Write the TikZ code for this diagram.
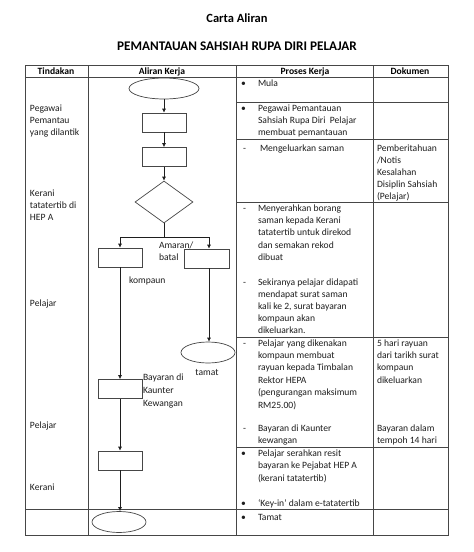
\documentclass[tikz,border=0pt]{standalone}
\usepackage{fontspec}
\setmainfont{Carlito}
\usetikzlibrary{arrows.meta,shapes.geometric}
\definecolor{rulegray}{RGB}{70,70,70}
\definecolor{inkgray}{RGB}{30,30,30}
\begin{document}
\begin{tikzpicture}[x=1pt,y=-1pt,
  lbl/.style={inner sep=0pt,outer sep=0pt,anchor=base west,text=inkgray,font=\fontsize{9.6}{11.5}\selectfont},
  hdr/.style={inner sep=0pt,outer sep=0pt,anchor=base,text=black,font=\bfseries\fontsize{9.6}{11.5}\selectfont},
  grid/.style={draw=rulegray,line width=0.8pt},
  boxstep/.style={draw=rulegray,line width=0.7pt,minimum width=44pt,minimum height=19pt,inner sep=0pt},
  oval/.style={ellipse,draw=rulegray,line width=0.7pt,minimum width=54pt,minimum height=21pt,inner sep=0pt},
  flow/.style={draw=inkgray,line width=0.7pt},
  arr/.style={flow,-{Latex[length=4pt,width=4pt]}}]
\path[use as bounding box] (0,0) rectangle (474,552);
\path[fill=white,draw=none] (0,0) rectangle (474,552);
% titles
\node[hdr,font=\bfseries\fontsize{12.5}{15}\selectfont] (title) at (237,22) {Carta Aliran};
\node[hdr,font=\bfseries\fontsize{13.2}{16}\selectfont] (subtitle) at (237,50) {PEMANTAUAN SAHSIAH RUPA DIRI PELAJAR};
% table
\draw[grid] (25,65) rectangle (448,535);
\draw[grid] (25,77) -- (448,77);
\draw[grid] (25,509) -- (448,509);
\draw[grid] (88,65) -- (88,535);
\draw[grid] (236,65) -- (236,535);
\draw[grid] (373,65) -- (373,535);
\draw[grid] (236,102) -- (448,102);
\draw[grid] (236,139) -- (448,139);
\draw[grid] (236,202) -- (448,202);
\draw[grid] (236,337) -- (448,337);
\draw[grid] (236,447) -- (448,447);
\node[hdr] (hTind) at (56,74) {Tindakan};
\node[hdr] (hAlir) at (162,74) {Aliran Kerja};
\node[hdr] (hPros) at (305,74) {Proses Kerja};
\node[hdr] (hDok) at (410,74) {Dokumen};
% tindakan
\node[lbl] (tA1) at (30,111) {Pegawai};
\node[lbl] (tA2) at (30,123) {Pemantau};
\node[lbl] (tA3) at (30,135) {yang dilantik};
\node[lbl] (tB1) at (30,196) {Kerani};
\node[lbl] (tB2) at (30,208) {tatatertib di};
\node[lbl] (tB3) at (30,220) {HEP A};
\node[lbl] (tC1) at (30,306) {Pelajar};
\node[lbl] (tD1) at (30,428) {Pelajar};
\node[lbl] (tE1) at (30,490) {Kerani};
% aliran kerja
\node[oval,minimum width=70pt] (mula) at (164,88.5) {};
\node[boxstep] (saman) at (164,122.5) {};
\node[boxstep] (serah) at (164,157) {};
\node[diamond,draw=rulegray,line width=0.7pt,minimum width=58pt,minimum height=42pt,inner sep=0pt] (semak) at (164,202) {};
\coordinate (split) at (164,237);
\node[boxstep] (kompaun) at (120,257.5) {};
\node[boxstep,minimum width=45pt] (amaran) at (207,258.5) {};
\node[oval] (tamat) at (208,352.5) {};
\node[boxstep] (bayar) at (120,389) {};
\node[boxstep] (resit) at (120,460.5) {};
\node[oval] (selesai) at (119,522) {};
\draw[arr] (mula) -- (saman);
\draw[arr] (saman) -- (serah);
\draw[arr] (serah) -- (semak);
\draw[flow] (semak.south) -- (split);
\draw[arr] (split) -| (kompaun.north);
\draw[arr] (split) -| ([xshift=2pt]amaran.north);
\draw[arr] ([xshift=2pt]amaran.south) -- ([xshift=2pt]amaran.south |- tamat.north);
\draw[arr] (kompaun) -- (bayar);
\draw[arr] (bayar) -- (resit);
\draw[arr] (resit.south) -- (resit.south |- selesai.north);
\node[lbl] (lAm1) at (159,248) {Amaran/};
\node[lbl] (lAm2) at (159,260) {batal};
\node[lbl] (lKomp) at (129,283) {kompaun};
\node[lbl,anchor=base] (lTamat) at (207,375) {tamat};
\node[lbl] (lBay1) at (143,380) {Bayaran di};
\node[lbl] (lBay2) at (143,393) {Kaunter};
\node[lbl] (lBay3) at (143,406) {Kewangan};
% proses kerja
\node[lbl] (pM0) at (241,86) {•};
\node[lbl] (pM1) at (258,86) {Mula};
\node[lbl] (pP0) at (241,111) {•};
\node[lbl] (pP1) at (258,111) {Pegawai Pemantauan};
\node[lbl] (pP2) at (258,123) {Sahsiah Rupa Diri\ \ Pelajar};
\node[lbl] (pP3) at (258,135) {membuat pemantauan};
\node[lbl] (pS0) at (243,151) {-};
\node[lbl] (pS1) at (260,151) {Mengeluarkan saman};
\node[lbl] (pR0) at (243,211) {-};
\node[lbl] (pR1) at (258,211) {Menyerahkan borang};
\node[lbl] (pR2) at (258,223) {saman kepada Kerani};
\node[lbl] (pR3) at (258,235) {tatatertib untuk direkod};
\node[lbl] (pR4) at (258,248) {dan semakan rekod};
\node[lbl] (pR5) at (258,260) {dibuat};
\node[lbl] (pK0) at (243,285) {-};
\node[lbl] (pK1) at (258,285) {Sekiranya pelajar didapati};
\node[lbl] (pK2) at (258,297) {mendapat surat saman};
\node[lbl] (pK3) at (258,309) {kali ke 2, surat bayaran};
\node[lbl] (pK4) at (258,321) {kompaun akan};
\node[lbl] (pK5) at (258,333) {dikeluarkan.};
\node[lbl] (pY0) at (243,346) {-};
\node[lbl] (pY1) at (258,346) {Pelajar yang dikenakan};
\node[lbl] (pY2) at (258,358) {kompaun membuat};
\node[lbl] (pY3) at (258,370) {rayuan kepada Timbalan};
\node[lbl] (pY4) at (258,383) {Rektor HEPA};
\node[lbl] (pY5) at (258,395) {(pengurangan maksimum};
\node[lbl] (pY6) at (258,408) {RM25.00)};
\node[lbl] (pB0) at (243,431) {-};
\node[lbl] (pB1) at (258,431) {Bayaran di Kaunter};
\node[lbl] (pB2) at (258,443) {kewangan};
\node[lbl] (pT0) at (241,456) {•};
\node[lbl] (pT1) at (258,456) {Pelajar serahkan resit};
\node[lbl] (pT2) at (258,468) {bayaran ke Pejabat HEP A};
\node[lbl] (pT3) at (258,481) {(kerani tatatertib)};
\node[lbl] (pE0) at (241,506) {•};
\node[lbl] (pE1) at (258,506) {‘Key-in’ dalam e-tatatertib};
\node[lbl] (pZ0) at (241,520) {•};
\node[lbl] (pZ1) at (258,520) {Tamat};
% dokumen
\node[lbl] (dN1) at (377,151) {Pemberitahuan};
\node[lbl] (dN2) at (377,163) {/Notis};
\node[lbl] (dN3) at (377,175) {Kesalahan};
\node[lbl] (dN4) at (377,187) {Disiplin Sahsiah};
\node[lbl] (dN5) at (377,199) {(Pelajar)};
\node[lbl] (dH1) at (377,346) {5 hari rayuan};
\node[lbl] (dH2) at (377,358) {dari tarikh surat};
\node[lbl] (dH3) at (377,370) {kompaun};
\node[lbl] (dH4) at (377,383) {dikeluarkan};
\node[lbl] (dT1) at (377,431) {Bayaran dalam};
\node[lbl] (dT2) at (377,443) {tempoh 14 hari};
\end{tikzpicture}
\end{document}
